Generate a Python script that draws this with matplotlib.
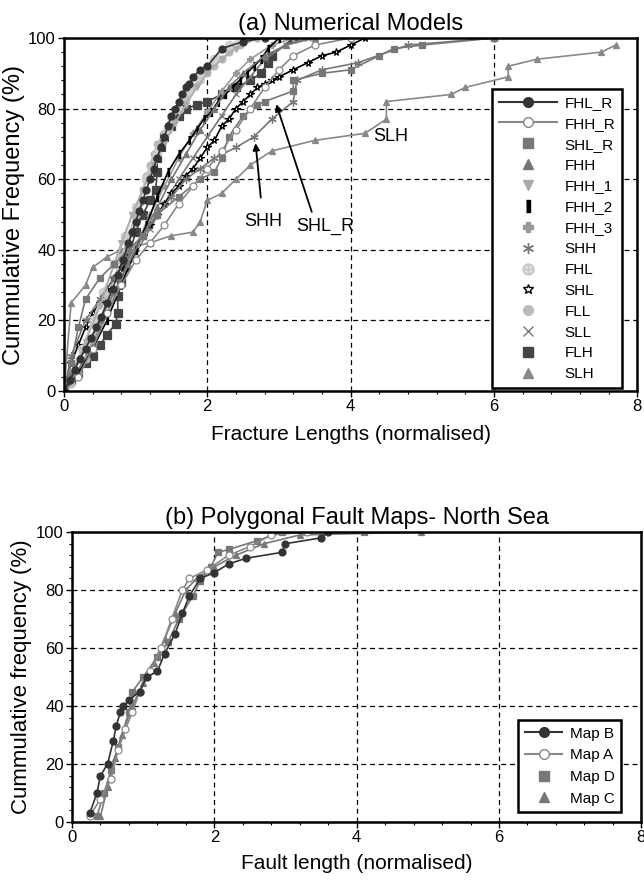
import matplotlib
matplotlib.use("Agg")
import matplotlib.pyplot as plt
from matplotlib.lines import Line2D
from matplotlib.ticker import MultipleLocator

plt.rcParams["font.family"] = ["Liberation Sans", "DejaVu Sans"]

# ---- (a) numerical models: cumulative frequency curves ----
FHL_R_X = [0, 0.08, 0.15, 0.22, 0.3, 0.38, 0.45, 0.52, 0.6, 0.68, 0.75, 0.82, 0.9, 0.95, 1.0, 1.05, 1.1, 1.15,
           1.2, 1.25, 1.3, 1.35, 1.4, 1.45, 1.5, 1.55, 1.6, 1.65, 1.7, 1.75, 1.8, 1.9, 2.0, 2.2, 2.5, 2.8]
FHL_R_Y = [0, 3, 6, 9, 12, 15, 18, 21, 25, 29, 33, 37, 42, 45, 48, 51, 54, 57,
           60, 63, 66, 69, 72, 75, 78, 80, 82, 84, 86, 87, 89, 91, 92, 97, 99, 100]
FHH_R_X = [0, 0.2, 0.4, 0.6, 0.8, 1.0, 1.2, 1.4, 1.6, 1.8, 2.0, 2.2, 2.4, 2.6, 2.8, 3.0, 3.2, 3.5, 4.0]
FHH_R_Y = [0, 4, 12, 22, 30, 37, 42, 47, 53, 58, 63, 68, 74, 80, 86, 91, 95, 98, 100]
SHL_R_X = [0, 0.1, 0.2, 0.3, 0.5, 0.7, 0.9, 1.1, 1.3, 1.6, 1.9, 2.1, 2.2, 2.3, 2.5, 2.7, 2.8, 3.2, 3.2, 3.6,
           4.0, 4.4, 4.6, 5.0, 6.0]
SHL_R_Y = [0, 8, 18, 26, 32, 36, 40, 44, 50, 55, 60, 62, 66, 72, 78, 81, 82, 85, 88, 90,
           91, 95, 97, 98, 100]
FHH_X = [0, 0.1, 0.3, 0.5, 0.7, 0.9, 1.1, 1.3, 1.5, 1.7, 1.9, 2.1, 2.3, 2.5, 2.8, 3.1, 3.5]
FHH_Y = [0, 5, 12, 20, 28, 36, 44, 52, 60, 67, 74, 80, 86, 90, 95, 98, 100]
FHH_1_X = [0, 0.15, 0.3, 0.5, 0.7, 0.8, 0.95, 1.1, 1.25, 1.4, 1.55, 1.7, 1.85, 2.0, 2.2, 2.4, 2.7]
FHH_1_Y = [0, 6, 14, 24, 36, 42, 50, 57, 64, 70, 76, 81, 86, 90, 94, 97, 100]
FHH_2_X = [0, 0.2, 0.4, 0.6, 0.8, 1.0, 1.15, 1.3, 1.45, 1.6, 1.75, 1.85, 1.95, 2.05, 2.15, 2.25, 2.35, 2.45,
           2.55, 2.65, 2.75, 2.85, 3.0]
FHH_2_Y = [0, 5, 12, 20, 30, 40, 47, 55, 62, 67, 71, 74, 77, 79, 82, 84, 86, 88,
           90, 92, 94, 97, 100]
FHH_3_X = [0, 0.2, 0.4, 0.6, 0.8, 1.0, 1.2, 1.4, 1.6, 1.8, 2.0, 2.2, 2.4, 2.6, 2.9, 3.2]
FHH_3_Y = [0, 5, 13, 22, 32, 41, 50, 58, 66, 73, 79, 85, 90, 94, 98, 100]
SHH_X = [0, 0.1, 0.3, 0.5, 0.7, 0.9, 1.1, 1.3, 1.5, 1.7, 1.9, 2.1, 2.4, 2.65, 2.9, 3.2, 3.25, 3.6, 4.1, 4.8, 6.0]
SHH_Y = [0, 10, 20, 26, 32, 38, 44, 50, 55, 60, 63, 66, 69, 72, 77, 82, 88, 91, 93, 98, 100]
FHL_X = [0, 0.1, 0.25, 0.4, 0.55, 0.7, 0.85, 1.0, 1.15, 1.3, 1.45, 1.6, 1.75, 1.9, 2.1, 2.3, 2.5]
FHL_Y = [0, 5, 12, 20, 28, 36, 44, 52, 60, 67, 74, 80, 85, 89, 94, 98, 100]
SHL_X = [0, 0.05, 0.1, 0.2, 0.3, 0.4, 0.5, 0.6, 0.7, 0.8, 0.9, 1.0, 1.1, 1.2, 1.3, 1.4, 1.5, 1.6, 1.7, 1.8,
         1.9, 2.0, 2.1, 2.2, 2.3, 2.4, 2.5, 2.6, 2.7, 2.8, 2.9, 3.0, 3.2, 3.4, 3.6, 3.8, 4.0, 4.2]
SHL_Y = [0, 4, 8, 13, 18, 22, 25, 29, 32, 35, 38, 41, 44, 47, 50, 53, 56, 58, 61, 63,
         66, 69, 71, 75, 77, 80, 82, 84, 86, 87, 88, 89, 91, 93, 95, 96, 98, 100]
FLL_X = [0, 0.1, 0.2, 0.3, 0.4, 0.5, 0.6, 0.7, 0.8, 0.9, 1.0, 1.05, 1.1, 1.15, 1.2, 1.25, 1.3, 1.4, 1.5, 1.6,
         1.7, 1.8, 1.9, 2.0, 2.1, 2.2, 2.3, 2.45, 2.7]
FLL_Y = [0, 2, 5, 9, 14, 20, 26, 32, 38, 44, 50, 53, 57, 61, 64, 67, 70, 73, 77, 80,
         83, 86, 88, 90, 92, 94, 96, 98, 100]
SLL_X = [0, 0.2, 0.4, 0.6, 0.8, 1.0, 1.2, 1.4, 1.6, 1.8, 2.0, 2.2, 2.4, 2.6, 2.8, 3.1, 3.4]
SLL_Y = [0, 6, 14, 22, 31, 39, 46, 53, 60, 66, 72, 78, 84, 89, 94, 98, 100]
FLH_X = [0, 0.1, 0.2, 0.3, 0.4, 0.5, 0.6, 0.72, 0.75, 0.75, 0.8, 0.85, 0.9, 1.0, 1.1, 1.2, 1.28, 1.3, 1.3, 1.35,
         1.4, 1.5, 1.6, 1.7, 1.85, 2.0, 2.2, 2.4, 2.6, 2.75, 2.85, 2.9, 3.2]
FLH_Y = [0, 3, 5, 8, 10, 13, 16, 19, 22, 27, 31, 35, 38, 45, 50, 54, 57, 62, 66, 69,
         72, 75, 78, 80, 81, 82, 84, 86, 88, 90, 93, 95, 100]
SLH_X = [0, 0.1, 0.3, 0.4, 0.6, 0.8, 1.2, 1.5, 1.8, 1.9, 2.0, 2.2, 2.4, 2.6, 2.9, 3.5, 4.2, 4.5, 4.5, 5.4,
         5.6, 6.2, 6.2, 6.6, 7.5, 7.7]
SLH_Y = [0, 25, 30, 35, 38, 40, 42, 44, 45, 48, 54, 56, 60, 64, 68, 71, 73, 77, 82, 84,
         86, 89, 92, 94, 96, 98]

# ---- (b) polygonal fault maps ----
MAP_B_X = [0.25, 0.35, 0.4, 0.5, 0.58, 0.62, 0.68, 0.72, 0.8, 0.95, 1.05, 1.2, 1.3, 1.45, 1.55, 1.65, 1.8, 2.0,
           2.2, 2.45, 2.95, 3.0, 3.5, 3.6]
MAP_B_Y = [3, 10, 16, 20, 28, 33, 38, 40, 42, 45, 50, 52, 58, 65, 72, 78, 84, 86,
           89, 91, 93, 96, 98, 100]
MAP_A_X = [0.25, 0.4, 0.55, 0.65, 0.75, 0.85, 0.95, 1.1, 1.25, 1.4, 1.55, 1.65, 1.9, 2.2, 2.5, 2.8, 3.3]
MAP_A_Y = [2, 8, 15, 25, 32, 38, 45, 52, 60, 70, 80, 84, 87, 92, 95, 99, 100]
MAP_D_X = [0.35, 0.45, 0.55, 0.65, 0.8, 0.85, 1.0, 1.2, 1.35, 1.5, 1.7, 1.8, 1.95, 2.05, 2.2, 2.6, 2.95, 4.1]
MAP_D_Y = [2, 10, 18, 26, 38, 45, 50, 57, 62, 70, 78, 83, 88, 93, 94, 97, 100, 100]
MAP_C_X = [0.4, 0.5, 0.6, 0.7, 0.85, 1.0, 1.15, 1.3, 1.45, 1.6, 1.75, 2.0, 2.3, 2.7, 3.2, 4.9]
MAP_C_Y = [2, 12, 22, 30, 40, 48, 55, 63, 72, 80, 84, 88, 92, 96, 99, 100]

RECT = [(-0.3, -1), (0.3, -1), (0.3, 1), (-0.3, 1)]

# name, x, y, colour, marker, face, size, line in legend
SERIES_A = [
    ("FHL_R", FHL_R_X, FHL_R_Y, "#333333", "o", "#333333", 5, True),
    ("FHH_R", FHH_R_X, FHH_R_Y, "#888888", "o", "white", 5, True),
    ("SHL_R", SHL_R_X, SHL_R_Y, "#777777", "s", "#777777", 5, False),
    ("FHH", FHH_X, FHH_Y, "#777777", "^", "#777777", 5, False),
    ("FHH_1", FHH_1_X, FHH_1_Y, "#aaaaaa", "v", "#aaaaaa", 5, False),
    ("FHH_2", FHH_2_X, FHH_2_Y, "#000000", RECT, "#000000", 6, False),
    ("FHH_3", FHH_3_X, FHH_3_Y, "#999999", "P", "#999999", 5, False),
    ("SHH", SHH_X, SHH_Y, "#777777", (6, 2, 0), "#777777", 6, False),
    ("FHL", FHL_X, FHL_Y, "#cccccc", "$\\oplus$", "#cccccc", 6, False),
    ("SHL", SHL_X, SHL_Y, "#000000", "*", "white", 5.5, False),
    ("FLL", FLL_X, FLL_Y, "#bbbbbb", "o", "#bbbbbb", 5, False),
    ("SLL", SLL_X, SLL_Y, "#777777", "x", "#777777", 5, False),
    ("FLH", FLH_X, FLH_Y, "#444444", "s", "#444444", 5.5, False),
    ("SLH", SLH_X, SLH_Y, "#888888", "^", "#888888", 5, False),
]

SERIES_B = [
    ("Map B", MAP_B_X, MAP_B_Y, "#333333", "o", "#333333", 5, True),
    ("Map A", MAP_A_X, MAP_A_Y, "#888888", "o", "white", 5, True),
    ("Map D", MAP_D_X, MAP_D_Y, "#777777", "s", "#777777", 5, False),
    ("Map C", MAP_C_X, MAP_C_Y, "#777777", "^", "#777777", 5, False),
]


def style_axes(ax):
    ax.set_xlim(0, 8)
    ax.set_ylim(0, 100)
    ax.xaxis.set_major_locator(MultipleLocator(2))
    ax.xaxis.set_minor_locator(MultipleLocator(0.4))
    ax.yaxis.set_major_locator(MultipleLocator(20))
    ax.yaxis.set_minor_locator(MultipleLocator(4))
    ax.tick_params(which="major", length=4, width=1, labelsize=12, pad=2)
    ax.tick_params(which="minor", length=2, width=0.8)
    ax.grid(True, which="major", color="black", linestyle=(0, (4, 3)), linewidth=0.9)
    for s in ax.spines.values():
        s.set_linewidth(1.8)


def draw(ax, series):
    handles = []
    for name, x, y, col, mk, face, ms, with_line in reversed(series):
        ax.plot(x, y, color=col, lw=1.2, marker=mk, ms=ms, mfc=face, mec=col, mew=0.9)
    for name, x, y, col, mk, face, ms, with_line in series:
        handles.append(Line2D([], [], color=col, lw=1.5 if with_line else 0,
                              linestyle="-" if with_line else "none",
                              marker=mk, ms=ms + 2, mfc=face, mec=col, mew=1.0, label=name))
    return handles


fig = plt.figure(figsize=(6.44, 8.84), dpi=100)

ax1 = fig.add_axes([0.0994, 0.5577, 0.890, 0.3993])
style_axes(ax1)
h1 = draw(ax1, SERIES_A)
ax1.set_title("(a) Numerical Models", fontsize=17, pad=6)
ax1.set_xlabel("Fracture Lengths (normalised)", fontsize=15, labelpad=8)
ax1.set_ylabel("Cummulative Frequency (%)", fontsize=17, labelpad=2)
leg1 = ax1.legend(handles=h1, loc="lower right", bbox_to_anchor=(0.974, 0.008),
                  fontsize=11, frameon=True, fancybox=False, edgecolor="black",
                  handlelength=3.8, labelspacing=0.45, borderpad=0.45, handletextpad=0.5,
                  borderaxespad=0)
leg1.get_frame().set_linewidth(1.8)
leg1.get_frame().set_alpha(1)

ax1.annotate("", xy=(2.67, 71), xytext=(2.75, 54),
             arrowprops=dict(arrowstyle="-|>", color="black", lw=1.3, mutation_scale=10))
ax1.annotate("", xy=(2.95, 82), xytext=(3.47, 50),
             arrowprops=dict(arrowstyle="-|>", color="black", lw=1.3, mutation_scale=10))
ax1.text(2.78, 48, "SHH", fontsize=13, ha="center", va="center")
ax1.text(3.64, 46.5, "SHL_R", fontsize=13, ha="center", va="center")
ax1.text(4.56, 72, "SLH", fontsize=13, ha="center", va="center")

ax2 = fig.add_axes([0.1118, 0.0701, 0.884, 0.328])
style_axes(ax2)
h2 = draw(ax2, SERIES_B)
ax2.set_title("(b) Polygonal Fault Maps- North Sea", fontsize=17, pad=6)
ax2.set_xlabel("Fault length (normalised)", fontsize=15, labelpad=6)
ax2.set_ylabel("Cummulative frequency (%)", fontsize=16, labelpad=3)
leg2 = ax2.legend(handles=h2, loc="lower right", bbox_to_anchor=(0.965, 0.033),
                  fontsize=11, frameon=True, fancybox=False, edgecolor="black",
                  handlelength=2.4, labelspacing=0.5, borderpad=0.45, handletextpad=0.5,
                  borderaxespad=0)
leg2.get_frame().set_linewidth(1.8)
leg2.get_frame().set_alpha(1)

fig.savefig("out.png", dpi=100)
